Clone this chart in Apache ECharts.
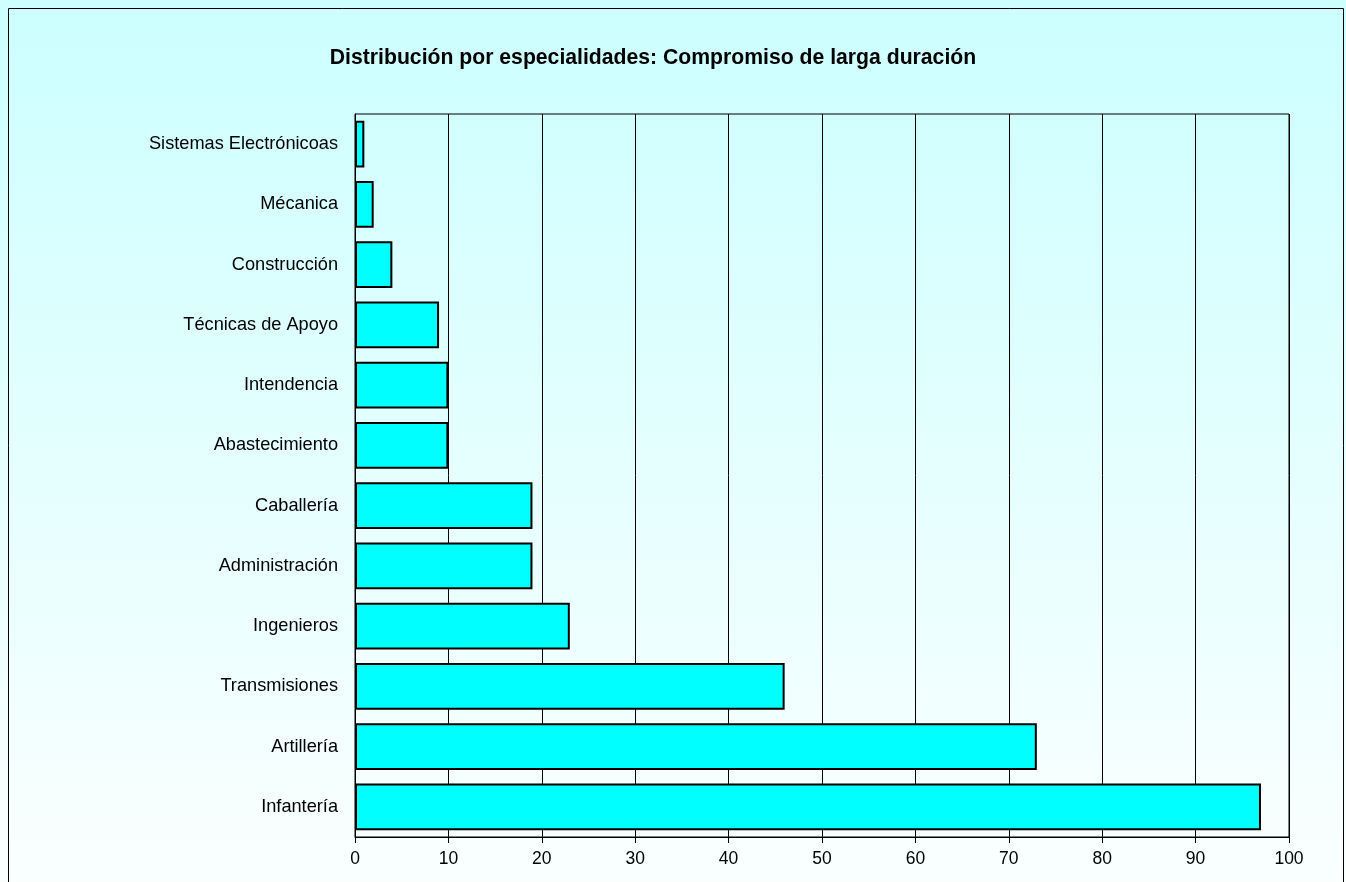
<!DOCTYPE html>
<html>
<head>
<meta charset="utf-8">
<script src="https://cdn.jsdelivr.net/npm/echarts@6/dist/echarts.min.js"></script>
<style>
  html, body { margin: 0; padding: 0; }
  #chart { width: 1346px; height: 882px; }
</style>
</head>
<body>
<div id="chart"></div>
<script>
// categories from bottom to top
const categories = [
  'Infantería', 'Artillería', 'Transmisiones', 'Ingenieros', 'Administración',
  'Caballería', 'Abastecimiento', 'Intendencia', 'Técnicas de Apoyo',
  'Construcción', 'Mécanica', 'Sistemas Electrónicoas'
];
const values = [97, 73, 46, 23, 19, 19, 10, 10, 9, 4, 2, 1];
const xTicks = [0, 10, 20, 30, 40, 50, 60, 70, 80, 90, 100];

const chart = echarts.init(document.getElementById('chart'));
const font = 'Arial, "Liberation Sans", sans-serif';

chart.setOption({
  animation: false,
  backgroundColor: new echarts.graphic.LinearGradient(0, 0, 0, 1, [
    { offset: 0, color: '#ccffff' },
    { offset: 1, color: '#fafffe' }
  ]),
  title: {
    text: 'Distribución por especialidades: Compromiso de larga duración',
    left: 648,
    textAlign: 'center',
    top: 43,
    textStyle: { fontFamily: font, fontSize: 21.2, fontWeight: 'bold', color: '#000' }
  },
  graphic: [{
    type: 'rect',
    shape: { x: 8.5, y: 8.5, width: 1335, height: 900 },
    style: { fill: 'none', stroke: '#000', lineWidth: 1 },
    silent: true
  }],
  grid: {
    left: 355, right: 57, top: 114, bottom: 45,
    show: true, borderColor: '#000', borderWidth: 1,
    backgroundColor: 'transparent'
  },
  xAxis: {
    type: 'value',
    min: xTicks[0],
    max: xTicks[xTicks.length - 1],
    interval: 10,
    axisLine: { show: true, lineStyle: { color: '#000' } },
    axisTick: { show: true, length: 6, lineStyle: { color: '#000' } },
    splitLine: { show: true, lineStyle: { color: '#000', width: 1 } },
    axisLabel: { color: '#000', fontFamily: font, fontSize: 17.5, margin: 13 }
  },
  yAxis: {
    type: 'category',
    data: categories,
    axisLine: { show: true, lineStyle: { color: '#000' } },
    axisTick: { show: false },
    axisLabel: { color: '#000', fontFamily: font, fontSize: 18.2, margin: 17 }
  },
  series: [{
    type: 'bar',
    data: values,
    barCategoryGap: '22%',
    itemStyle: { color: '#00ffff', borderColor: '#000', borderWidth: 2 }
  }]
});
</script>
</body>
</html>
